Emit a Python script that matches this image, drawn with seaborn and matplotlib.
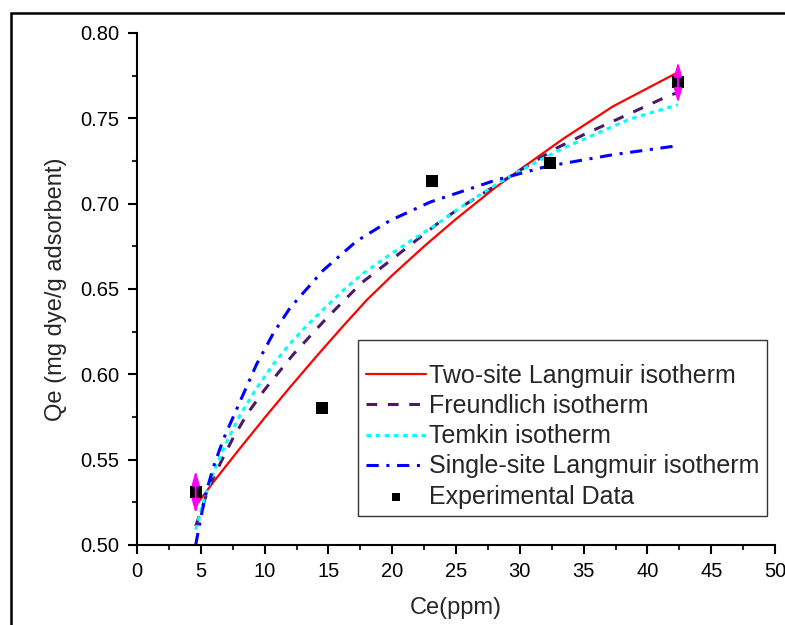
import matplotlib
matplotlib.use("Agg")
import matplotlib.pyplot as plt
from matplotlib.ticker import MultipleLocator, FormatStrFormatter
import seaborn as sns

sns.set_style("ticks")
plt.rcParams['font.family'] = ['Liberation Sans', 'DejaVu Sans']

# experimental points (Ce, Qe) and error on the first/last point
exp_x = [4.6, 14.5, 23.1, 32.4, 42.4]
exp_y = [0.531, 0.580, 0.713, 0.724, 0.771]
exp_err = [0.0125, 0.0, 0.0, 0.0, 0.012]

# fitted curves
two_x = [4.8, 6.0, 8.0, 10.0, 12.0, 14.0, 16.0, 18.0, 20.0, 22.5, 25.0, 28.0, 30.3, 33.4, 37.3, 42.4]
two_y = [0.525, 0.537, 0.556, 0.5745, 0.5925, 0.610, 0.627, 0.6435, 0.658, 0.675, 0.691, 0.709, 0.7215, 0.738, 0.757, 0.777]

freu_x = [4.6, 5.7, 6.8, 7.55, 8.7, 10.0, 12.25, 14.87, 17.6, 20.6, 23.5, 25.3, 28.4, 30.0, 32.9, 35.0, 38.1, 41.8, 42.4]
freu_y = [0.511, 0.535, 0.552, 0.563, 0.5775, 0.591, 0.6117, 0.633, 0.6536, 0.671, 0.688, 0.6975, 0.712, 0.7195, 0.7326,
          0.7404, 0.751, 0.7637, 0.765]

tem_x = [4.6, 5.3, 6.1, 7.0, 8.07, 9.38, 10.7, 12.0, 13.3, 14.6, 16.2, 17.7, 19.6, 21.4, 23.3, 25.6, 28.2, 30.8, 33.4,
         36.0, 38.6, 42.4]
tem_y = [0.509, 0.528, 0.5445, 0.560, 0.576, 0.592, 0.606, 0.618, 0.6285, 0.638, 0.6495, 0.659, 0.669, 0.678, 0.687,
         0.699, 0.7115, 0.7225, 0.7325, 0.741, 0.7495, 0.758]

single_x = [4.6, 5.0, 5.46, 6.0, 6.77, 8.07, 9.38, 10.68, 12.0, 14.6, 17.2, 19.8, 23.0, 28.2, 32.1, 37.3, 42.4]
single_y = [0.500, 0.516, 0.532, 0.546, 0.562, 0.584, 0.606, 0.624, 0.639, 0.661, 0.678, 0.690, 0.701, 0.714, 0.7218,
            0.7287, 0.734]

fig = plt.figure(figsize=(7.85, 6.25), dpi=100)
ax = fig.add_axes([137/785, 1-545/625, 638/785, 512/625])

sns.lineplot(x=two_x, y=two_y, ax=ax, color="#FF0000", lw=1.6, label="Two-site Langmuir isotherm", sort=False)
sns.lineplot(x=freu_x, y=freu_y, ax=ax, color="#4B1A6E", lw=2.2, linestyle=(0, (3.5, 3.5)), label="Freundlich isotherm", sort=False)
sns.lineplot(x=tem_x, y=tem_y, ax=ax, color="#00FFFF", lw=2.2, linestyle=(0, (1.5, 1.5)), label="Temkin isotherm", sort=False)
sns.lineplot(x=single_x, y=single_y, ax=ax, color="#0000FF", lw=2.2, linestyle=(0, (4, 2.5, 1, 2.5)), label="Single-site Langmuir isotherm", sort=False)
sns.scatterplot(x=exp_x, y=exp_y, ax=ax, marker="s", s=70, color="black", edgecolor="black", linewidth=0,
                label="Experimental Data", zorder=3)

for x, y, e in zip(exp_x, exp_y, exp_err):
    if e > 0:
        ax.annotate("", xy=(x, y + e), xytext=(x, y - e),
                    arrowprops=dict(arrowstyle="<|-|>,head_length=0.7,head_width=0.2", color="#FF00FF",
                                    lw=1.3, mutation_scale=12, shrinkA=0, shrinkB=0), zorder=4)

ax.set_xlim(0, 50)
ax.set_ylim(0.50, 0.80)
ax.xaxis.set_major_locator(MultipleLocator(5))
ax.xaxis.set_minor_locator(MultipleLocator(2.5))
ax.yaxis.set_major_locator(MultipleLocator(0.05))
ax.yaxis.set_minor_locator(MultipleLocator(0.025))
ax.yaxis.set_major_formatter(FormatStrFormatter('%.2f'))
ax.tick_params(which="major", direction="out", length=6.5, width=1.5, labelsize=14.5, pad=6, colors="black")
ax.tick_params(which="minor", direction="out", length=3.5, width=1.5)

sns.despine(ax=ax)
for s in ["left", "bottom"]:
    ax.spines[s].set_linewidth(1.5)
    ax.spines[s].set_color("black")

ax.set_xlabel("Ce(ppm)", fontsize=17, labelpad=11)
ax.set_ylabel("Qe (mg dye/g adsorbent)", fontsize=17, labelpad=10)

leg = ax.legend(loc="upper left", bbox_to_anchor=(358/785, 1-340/625), bbox_transform=fig.transFigure,
                fontsize=18, frameon=True, fancybox=False, framealpha=1, edgecolor="#333333",
                borderpad=0.3, borderaxespad=0, handlelength=2.4, handletextpad=0.15,
                labelspacing=0.25, markerscale=0.7, title=" ", title_fontsize=8)
leg.get_frame().set_linewidth(1.0)

fig.add_artist(plt.Rectangle((11/785, -0.1), 1.2, 1-13/625+0.1, transform=fig.transFigure,
                             fill=False, lw=1.8, ec="black"))

fig.savefig("out.png", dpi=100)
